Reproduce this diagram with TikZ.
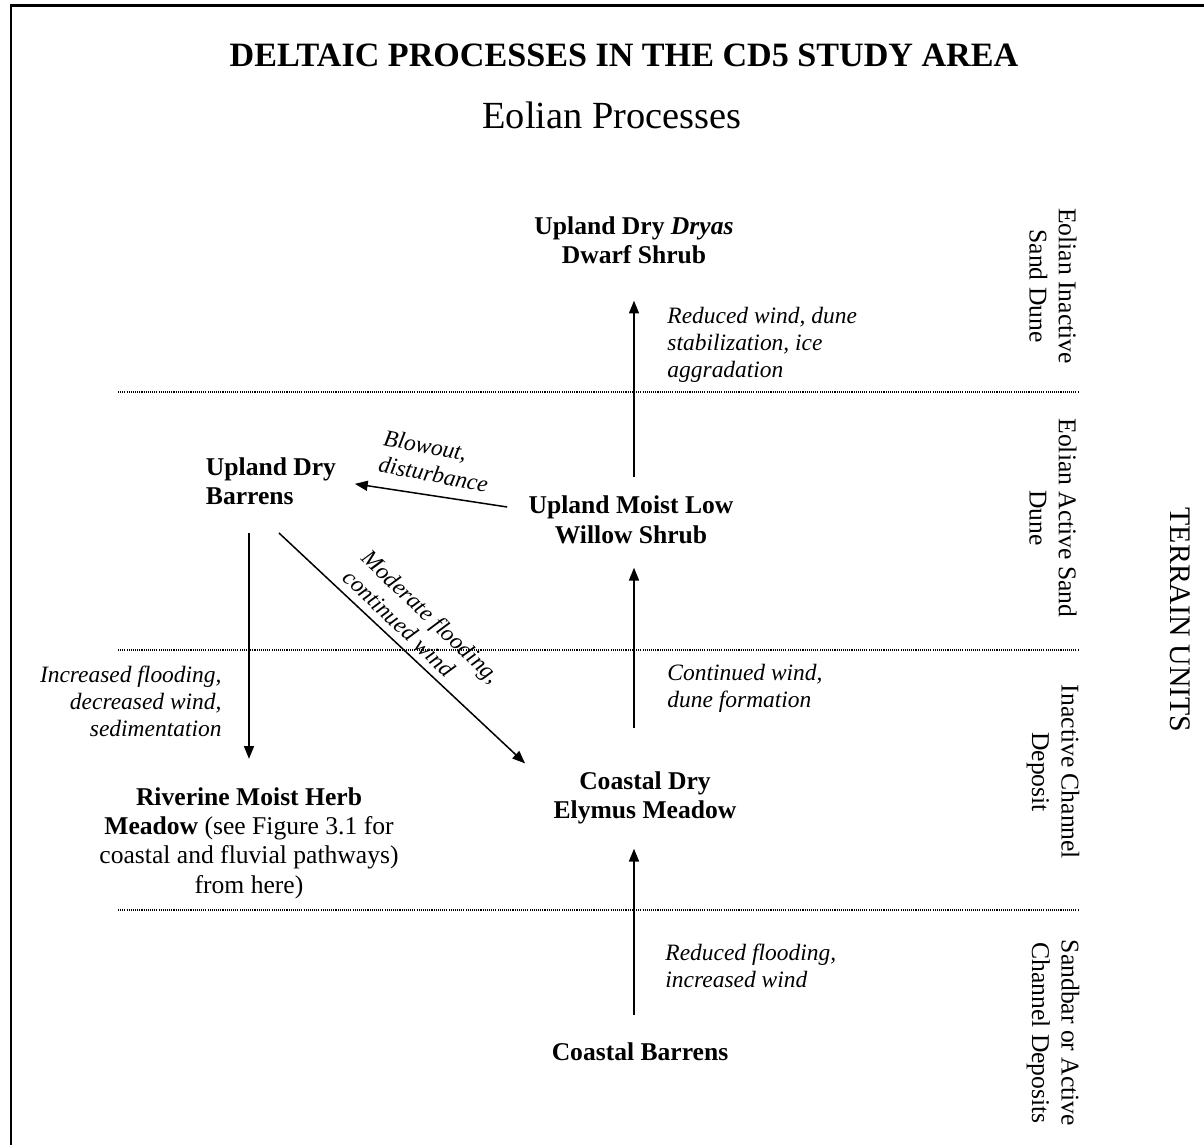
\documentclass[tikz,border=0pt]{standalone}
\usepackage{fontspec}
\setmainfont{Liberation Serif}
\usetikzlibrary{arrows.meta,positioning}

\tikzstyle{every node}+=[inner sep=0.5mm]
\tikzstyle{unit}=[font=\fontsize{12}{13.8}\selectfont\bfseries, align=center]
\tikzstyle{cause}=[font=\fontsize{11}{12.65}\selectfont\itshape, align=left]
\tikzstyle{terrain}=[font=\fontsize{12}{13.8}\selectfont, align=center, rotate=-90]
\tikzstyle{flow}=[-{Triangle[length=6pt,width=4.7pt]}, line width=0.7pt]
\tikzstyle{band}=[line width=0.5pt, dash pattern=on 0.5pt off 0.5pt]

\begin{document}
\begin{tikzpicture}[x=0.469pt, y=-0.469pt]

\useasboundingbox (0,0) rectangle (1204,1145);
\draw[line width=1.2pt] (11,1145) -- (11,5.5) -- (1204,5.5);

% headings
\node[font=\fontsize{16}{19}\selectfont\bfseries] (title) at (624,55) {DELTAIC PROCESSES IN THE CD5 STUDY AREA};
\node[font=\fontsize{18}{21}\selectfont] (sub) at (612,115) {Eolian Processes};

% terrain bands
\draw[band] (118,392) -- (1078,392);
\draw[band] (118,650) -- (1078,650);
\draw[band] (118,910) -- (1078,910);

% vegetation units
\node[unit] (dryas) at (634,240) {Upland Dry \textit{Dryas}\\Dwarf Shrub};
\node[unit] (willow) at (631,520) {Upland Moist Low\\Willow Shrub};
\node[unit, align=left] (updry) at (271,481.5) {Upland Dry\\Barrens};
\node[unit] (riverine) at (249,843) {Riverine Moist Herb\\Meadow \textmd{(see Figure 3.1 for}\\\textmd{coastal and fluvial pathways)}\\\textmd{from here)}};
\node[unit] (elymus) at (645,798) {Coastal Dry\\Elymus Meadow};
\node[unit] (coastal) at (640,1052) {Coastal Barrens};

% processes
\node[cause, anchor=west] (stab) at (664,345) {Reduced wind, dune\\stabilization, ice\\aggradation};
\node[cause, rotate=-11] (blow) at (436,461) {Blowout,\\disturbance};
\node[cause, rotate=-43.5] (flood) at (422,626) {Moderate flooding,\\continued wind};
\node[cause, anchor=west] (dune) at (664,688) {Continued wind,\\dune formation};
\node[cause, anchor=east, align=right] (sed) at (225,701) {Increased flooding,\\decreased wind,\\sedimentation};
\node[cause, anchor=west] (wind) at (662,966) {Reduced flooding,\\increased wind};

% terrain units
\node[terrain] (inactive) at (1053,286) {Eolian Inactive\\Sand Dune};
\node[terrain] (active) at (1053,518) {Eolian Active Sand\\Dune};
\node[terrain] (channel) at (1053,772) {Inactive Channel\\Deposit};
\node[terrain] (sandbar) at (1053,1033) {Sandbar or Active\\Channel Deposits};
\node[font=\fontsize{14}{16}\selectfont, rotate=-90] (units) at (1180,620) {TERRAIN UNITS};

% transitions
\draw[flow, shorten <=7.5pt, shorten >=15.7pt] (willow.north -| dryas.south) -- (dryas.south);
\draw[flow, shorten >=7.3pt] ([shift={(-18,-13)}]willow.west) -- (updry.east);
\draw[flow, shorten <=11.5pt, shorten >=11.7pt] (updry.south -| riverine.north) -- (riverine.north);
\draw[flow, shorten <=16.7pt, shorten >=3.3pt] ([shift={(-18,0)}]updry.south) -- ([shift={(-20,0)}]elymus.north west);
\draw[flow, shorten <=19pt, shorten >=9.6pt] (elymus.north -| dryas.south) -- (willow.south -| dryas.south);
\draw[flow, shorten <=11.7pt, shorten >=9.8pt] (coastal.north -| dryas.south) -- (elymus.south -| dryas.south);

\end{tikzpicture}
\end{document}
